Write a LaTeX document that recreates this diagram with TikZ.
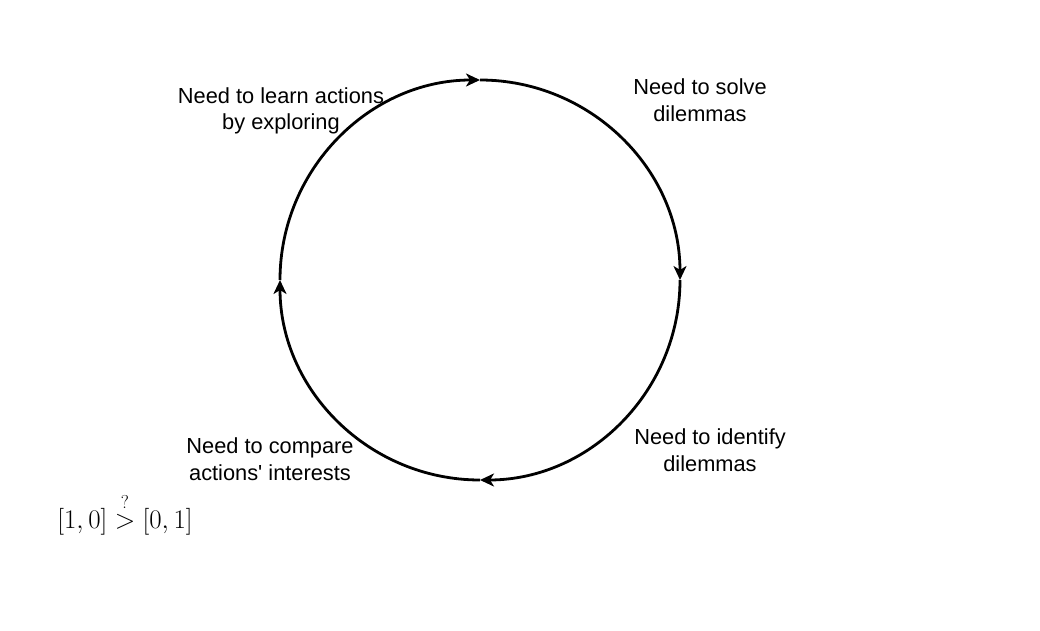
\documentclass[tikz,border=0pt]{standalone}
\usepackage{amsmath}
\usepackage{graphicx}
\usepackage[no-math]{fontspec}
\setmainfont{Liberation Sans}
\usetikzlibrary{arrows.meta}
\begin{document}
\begin{tikzpicture}[x=1pt,y=1pt,
  loop/.style={line width=2.8pt,-{Stealth[length=14pt,width=13pt,inset=4pt]}},
  lbl/.style={align=center,font=\fontsize{21.8}{26.5}\selectfont,inner sep=0pt}]
\useasboundingbox (0,0) rectangle (1040,630);
\coordinate (top) at (480,550);
\coordinate (right) at (680,350);
\coordinate (bottom) at (480,150);
\coordinate (left) at (280,350);
\draw[loop] (left) arc[start angle=180,end angle=90,radius=200];
\draw[loop] (top) arc[start angle=90,end angle=0,radius=200];
\draw[loop] (right) arc[start angle=0,end angle=-90,radius=200];
\draw[loop] (bottom) arc[start angle=-90,end angle=-180,radius=200];
\node[lbl] (learn) at (281,519) {Need to learn actions\\by exploring};
\node[lbl] (solve) at (700,530) {Need to solve\\dilemmas};
\node[lbl] (identify) at (710,180) {Need to identify\\dilemmas};
\node[lbl] (compare) at (270,171) {Need to compare\\actions\textquotesingle\ interests};
\node[inner sep=0pt,font=\fontsize{24}{24}\selectfont] (ineq) at (125,116) {\scalebox{1.08}{$[1,0]\overset{?}{>}[0,1]$}};
\end{tikzpicture}
\end{document}
